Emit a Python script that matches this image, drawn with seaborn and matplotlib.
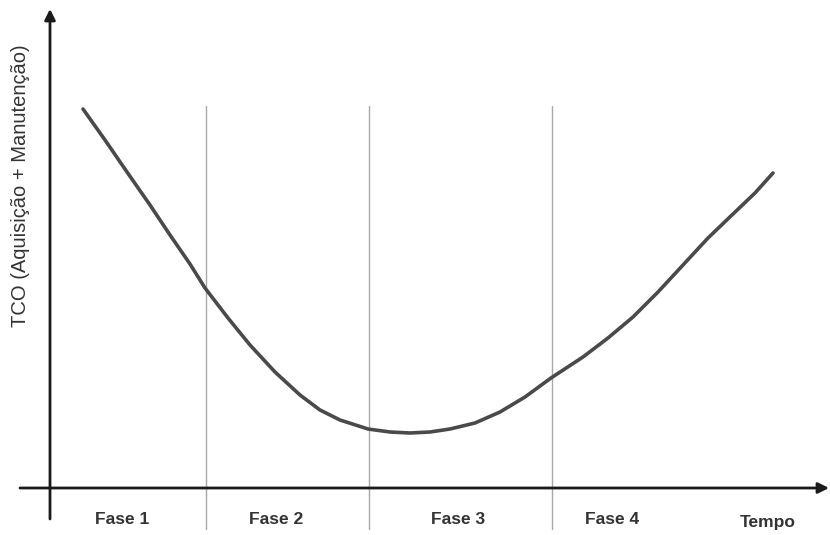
import matplotlib.pyplot as plt
import seaborn as sns
import pandas as pd
import numpy as np

# curve (x = time, y = TCO, arbitrary units)
tempo = [83, 105, 127, 150, 170, 190, 205, 228, 250, 275, 300, 320, 340, 368, 390, 410,
         430, 450, 475, 500, 525, 551, 583, 608, 633, 658, 683, 708, 733, 755, 773]
tco = [426, 395, 363, 330, 300, 271, 247, 217, 190, 163, 140, 125, 115, 106, 103, 102,
       103, 106, 112, 123, 138, 157, 178, 197, 218, 243, 270, 297, 321, 342, 362]

fases = ["Fase 1", "Fase 2", "Fase 3", "Fase 4"]
fase_pos = [122, 276, 458, 612]
divisoes = [206, 369, 552]

df = pd.DataFrame({"Tempo": tempo, "TCO": tco})

sns.set_style("white")
plt.rcParams['font.family'] = ['Liberation Sans', 'DejaVu Sans']

fig = plt.figure(figsize=(8.3, 5.35), dpi=100)
ax = fig.add_axes([0, 0, 1, 1])
ax.set_xlim(0, 830)
ax.set_ylim(0, 535)
ax.axis("off")

# phase dividers
for xv in divisoes:
    ax.plot([xv, xv], [6, 429], color="#a8a8a8", lw=1.0, zorder=1)

# axes with arrows
ax.annotate("", xy=(50, 526), xytext=(50, 16),
            arrowprops=dict(arrowstyle="-|>", color="#1a1a1a", lw=2.0,
                            mutation_scale=16, shrinkA=0, shrinkB=0))
ax.annotate("", xy=(829, 47), xytext=(20, 47),
            arrowprops=dict(arrowstyle="-|>", color="#1a1a1a", lw=2.0,
                            mutation_scale=16, shrinkA=0, shrinkB=0))

sns.lineplot(data=df, x="Tempo", y="TCO", ax=ax, color="#4a4a4a", lw=2.6, zorder=3)
ax.set_xlim(0, 830)
ax.set_ylim(0, 535)

for lab, xp in zip(fases, fase_pos):
    ax.text(xp, 16, lab, ha="center", va="center", fontsize=12.5,
            fontweight="bold", color="#333333")
ax.text(768, 12, "Tempo", ha="center", va="center", fontsize=12.5,
        fontweight="bold", color="#333333")
ax.text(21, 349, "TCO (Aquisição + Manutenção)", rotation=90, ha="center",
        va="center", fontsize=14.5, color="#333333")

fig.savefig("out.png", dpi=100)
